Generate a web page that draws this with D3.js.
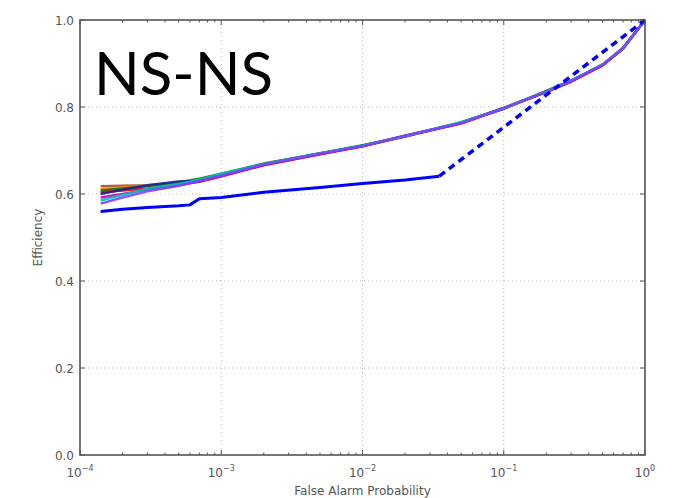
<!DOCTYPE html>
<html>
<head>
<meta charset="utf-8">
<script src="https://cdn.jsdelivr.net/npm/d3@7"></script>
<style>
  html, body { margin: 0; padding: 0; background: #fff; }
  svg { display: block; }
</style>
</head>
<body>
<svg id="chart" width="673" height="498"></svg>
<script>
// False alarm probability sample points shared by the template-bank curves
const fapGrid = [1.4e-4, 2e-4, 3e-4, 5e-4, 7e-4, 1e-3, 2e-3, 5e-3, 1e-2, 2e-2, 5e-2, 0.1, 0.2, 0.3, 0.5, 0.7, 1];

// Efficiency curves (one per run), overlapping bundle
const seriesBrown   = [0.618, 0.619, 0.620, 0.624, 0.630, 0.643, 0.667, 0.692, 0.711, 0.733, 0.764, 0.797, 0.835, 0.860, 0.897, 0.935, 1.0];
const seriesOrange  = [0.612, 0.615, 0.619, 0.625, 0.632, 0.645, 0.669, 0.694, 0.710, 0.734, 0.763, 0.798, 0.836, 0.859, 0.898, 0.936, 1.0];
const seriesGreen   = [0.608, 0.613, 0.618, 0.627, 0.635, 0.647, 0.670, 0.693, 0.712, 0.732, 0.765, 0.796, 0.837, 0.861, 0.896, 0.934, 1.0];
const seriesRed     = [0.604, 0.608, 0.613, 0.621, 0.628, 0.640, 0.666, 0.691, 0.709, 0.733, 0.762, 0.797, 0.834, 0.858, 0.895, 0.935, 1.0];
const seriesNavy    = [0.600, 0.610, 0.620, 0.629, 0.630, 0.644, 0.668, 0.693, 0.711, 0.734, 0.764, 0.798, 0.836, 0.860, 0.897, 0.936, 1.0];
const seriesMagenta = [0.592, 0.600, 0.610, 0.620, 0.629, 0.643, 0.667, 0.692, 0.710, 0.732, 0.763, 0.796, 0.835, 0.859, 0.896, 0.934, 1.0];
const seriesCyan    = [0.585, 0.598, 0.612, 0.623, 0.633, 0.646, 0.669, 0.694, 0.711, 0.733, 0.765, 0.797, 0.836, 0.861, 0.898, 0.935, 1.0];
const seriesPurple  = [0.578, 0.592, 0.606, 0.619, 0.630, 0.642, 0.668, 0.693, 0.710, 0.734, 0.763, 0.798, 0.835, 0.860, 0.897, 0.936, 1.0];

const bundleColors = ["#a0522d", "#ff8c00", "#008000", "#e00000", "#1f1fa0", "#c000c0", "#00c0c0", "#8040ff"];
const bundleSeries = [seriesBrown, seriesOrange, seriesGreen, seriesRed, seriesNavy, seriesMagenta, seriesCyan, seriesPurple];

// Reference curve (solid) and its extrapolation to (1, 1) (dashed)
const refFap = [1.4e-4, 2e-4, 3e-4, 5e-4, 6e-4, 7e-4, 1e-3, 2e-3, 5e-3, 1e-2, 2e-2, 3.5e-2];
const refEff = [0.560, 0.565, 0.569, 0.573, 0.575, 0.589, 0.592, 0.604, 0.615, 0.624, 0.632, 0.641];
const extFap = [3.5e-2, 1];
const extEff = [0.641, 1.0];

// Axis ticks
const xTickExponents = [-4, -3, -2, -1, 0];
const yTickValues = [0.0, 0.2, 0.4, 0.6, 0.8, 1.0];

const titleText = "NS-NS";
const xLabel = "False Alarm Probability";
const yLabel = "Efficiency";

const svg = d3.select("#chart");
const margin = { left: 80, right: 28, top: 20, bottom: 43 };
const W = 673, H = 498;
const x0 = margin.left, x1 = W - margin.right, y0 = margin.top, y1 = H - margin.bottom;

const x = d3.scaleLog().domain([1e-4, 1]).range([x0, x1]);
const y = d3.scaleLinear().domain([0, 1]).range([y1, y0]);

// Gridlines at major ticks
const grid = svg.append("g").attr("stroke", "#b8b8b8").attr("stroke-width", 1).attr("stroke-dasharray", "1,3");
xTickExponents.slice(1, -1).forEach(e => {
  grid.append("line").attr("x1", x(Math.pow(10, e))).attr("x2", x(Math.pow(10, e))).attr("y1", y0).attr("y2", y1);
});
yTickValues.slice(1, -1).forEach(v => {
  grid.append("line").attr("x1", x0).attr("x2", x1).attr("y1", y(v)).attr("y2", y(v));
});

// Inward ticks on all four sides
const ticks = svg.append("g").attr("stroke", "#555").attr("stroke-width", 1);
const minor = [];
for (let e = -4; e < 0; e++) for (let m = 2; m <= 9; m++) minor.push(m * Math.pow(10, e));
minor.forEach(v => {
  ticks.append("line").attr("x1", x(v)).attr("x2", x(v)).attr("y1", y1).attr("y2", y1 - 2.5);
  ticks.append("line").attr("x1", x(v)).attr("x2", x(v)).attr("y1", y0).attr("y2", y0 + 2.5);
});
xTickExponents.forEach(e => {
  const px = x(Math.pow(10, e));
  ticks.append("line").attr("x1", px).attr("x2", px).attr("y1", y1).attr("y2", y1 - 5);
  ticks.append("line").attr("x1", px).attr("x2", px).attr("y1", y0).attr("y2", y0 + 5);
});
yTickValues.forEach(v => {
  ticks.append("line").attr("x1", x0).attr("x2", x0 + 5).attr("y1", y(v)).attr("y2", y(v));
  ticks.append("line").attr("x1", x1).attr("x2", x1 - 5).attr("y1", y(v)).attr("y2", y(v));
});

// Curves
const clip = svg.append("clipPath").attr("id", "plotclip").append("rect")
  .attr("x", x0).attr("y", y0 - 2).attr("width", x1 - x0).attr("height", y1 - y0 + 2);
const plot = svg.append("g").attr("clip-path", "url(#plotclip)");
const line = d3.line().x(d => x(d[0])).y(d => y(d[1]));

bundleSeries.forEach((s, i) => {
  plot.append("path")
    .attr("d", line(fapGrid.map((f, j) => [f, s[j]])))
    .attr("fill", "none").attr("stroke", bundleColors[i]).attr("stroke-width", 2.4)
    .attr("stroke-linejoin", "round").attr("stroke-opacity", 0.9);
});

plot.append("path")
  .attr("d", line(refFap.map((f, j) => [f, refEff[j]])))
  .attr("fill", "none").attr("stroke", "#0000ff").attr("stroke-width", 3).attr("stroke-linejoin", "round");
plot.append("path")
  .attr("d", line(extFap.map((f, j) => [f, extEff[j]])))
  .attr("fill", "none").attr("stroke", "#0000ff").attr("stroke-width", 3.5).attr("stroke-dasharray", "7,5");

// Frame
svg.append("rect").attr("x", x0).attr("y", y0).attr("width", x1 - x0).attr("height", y1 - y0)
  .attr("fill", "none").attr("stroke", "#555").attr("stroke-width", 1.6);

// Tick labels
const font = "'DejaVu Sans', sans-serif";
yTickValues.forEach(v => {
  svg.append("text").attr("x", x0 - 6).attr("y", y(v) + 4.5)
    .attr("text-anchor", "end").attr("font-family", font).attr("font-size", 12).attr("fill", "#555")
    .text(d3.format(".1f")(v));
});
xTickExponents.forEach(e => {
  const t = svg.append("text").attr("x", x(Math.pow(10, e))).attr("y", y1 + 22)
    .attr("text-anchor", "middle").attr("font-family", font).attr("font-size", 12).attr("fill", "#555");
  t.append("tspan").text("10");
  t.append("tspan").attr("font-size", 8).attr("dy", -6).text(e === 0 ? "0" : "\u2212" + (-e));
});

// Axis labels
svg.append("text").attr("x", (x0 + x1) / 2).attr("y", H - 3.5)
  .attr("text-anchor", "middle").attr("font-family", font).attr("font-size", 12).attr("fill", "#555")
  .text(xLabel);
svg.append("text").attr("transform", `translate(42,${(y0 + y1) / 2}) rotate(-90)`)
  .attr("text-anchor", "middle").attr("font-family", font).attr("font-size", 12).attr("fill", "#555")
  .text(yLabel);

// Title inside the plot
svg.append("text").attr("x", 94).attr("y", 95)
  .attr("font-family", "Lato, 'Open Sans', sans-serif").attr("font-size", 60).attr("fill", "#000")
  .text(titleText);
</script>
</body>
</html>
